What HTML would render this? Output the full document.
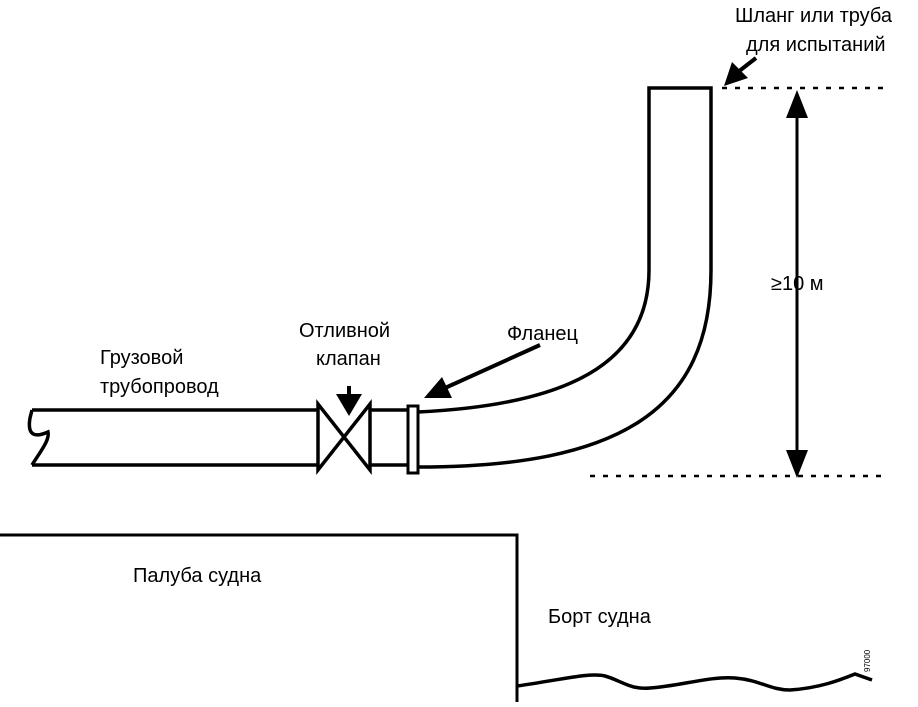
<!DOCTYPE html>
<html><head><meta charset="utf-8"><style>
html,body{margin:0;padding:0;background:#fff}
text{font-family:"Liberation Sans",Arial,sans-serif;font-size:20px;fill:#000}
</style></head><body>
<svg width="918" height="702" viewBox="0 0 918 702" xmlns="http://www.w3.org/2000/svg">
<g fill="none" stroke="#000" stroke-width="3.5">
<path d="M32,410 L318,410 M32,465 L318,465"/>
<path d="M32,410 L30,418 C28,430 30,440 48,432 C50,440 40,452 32,465"/>
<path d="M318,404 L318,470 L370,404 L370,470 Z"/>
<path d="M370,410 L408,410 M370,465 L408,465"/>
<rect x="408" y="406" width="10" height="67" stroke-width="3"/>
<path d="M418,412 C565,405 649,365 649,270 L649,88 L711,88 L711,270 C711,410 620,467 418,467"/>
<path d="M0,535 L517,535 L517,702" stroke-width="3"/>
<path d="M517,686 C560,680 590,672 605,676 C620,680 630,690 650,688 C680,686 710,676 735,678 C760,680 770,690 790,690 C820,688 840,680 855,674 L872,680" stroke-width="3.5"/>
<path d="M722,88 L885,88 M590,476 L885,476" stroke-width="2.5" stroke-dasharray="5,8"/>
<path d="M797,112 L797,455" stroke-width="3"/>
<path d="M756,58 L738,72" stroke-width="4"/>
<path d="M349,386 L349,398" stroke-width="4"/>
<path d="M540,345 L445,388" stroke-width="4"/>
</g>
<g fill="#000">
<polygon points="797,90 786,118 808,118"/>
<polygon points="797,478 786,450 808,450"/>
<polygon points="724,86 732,62 748,78"/>
<polygon points="349,416 336,394 362,394"/>
<polygon points="424,398 442,377 452,398"/>
</g>
<text x="735" y="22">Шланг или труба</text>
<text x="746" y="51">для испытаний</text>
<text x="100" y="364">Грузовой</text>
<text x="100" y="393">трубопровод</text>
<text x="299" y="337">Отливной</text>
<text x="316" y="365">клапан</text>
<text x="507" y="340">Фланец</text>
<text x="771" y="290">≥10 м</text>
<text x="133" y="582">Палуба судна</text>
<text x="548" y="623">Борт судна</text>
<text x="0" y="0" transform="translate(870,672) rotate(-90)" style="font-size:8px">97000</text>
</svg>
</body></html>
